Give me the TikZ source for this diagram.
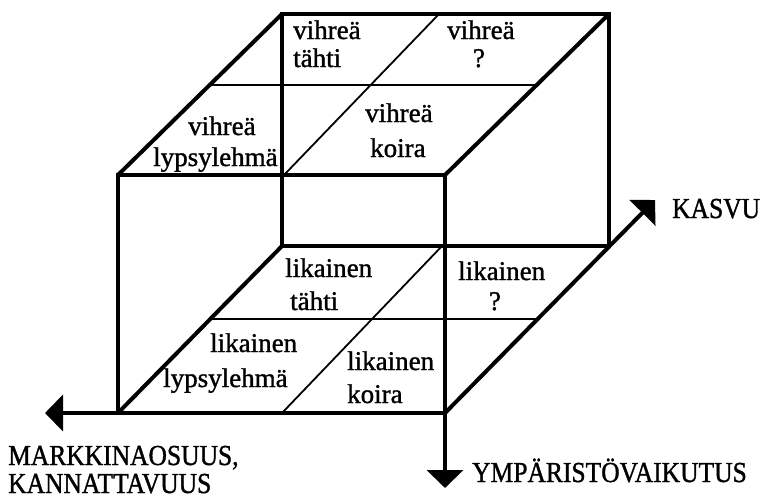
\documentclass[tikz,border=0pt]{standalone}
\usepackage{fontspec}
\setmainfont[FakeBold=1]{Liberation Serif}
\newfontfamily\cellfont[FakeBold=1.2]{Liberation Serif}
\newfontfamily\capsfont[FakeStretch=0.88,FakeBold=1.2]{Liberation Serif}
\usetikzlibrary{arrows.meta,calc}
\begin{document}
\begin{tikzpicture}[x=1pt,y=-1pt,
  edge/.style={line width=4pt},
  divider/.style={line width=1.8pt},
  axis/.style={line width=4pt,-{Triangle[length=18pt,width=36pt]}},
  cell/.style={inner sep=0pt,anchor=base west,font=\cellfont\fontsize{27}{32}\selectfont},
  cellc/.style={cell,anchor=base},
  axlabel/.style={inner sep=0pt,anchor=base west,font=\capsfont\fontsize{29}{34}\selectfont}]
\useasboundingbox (0,0) rectangle (767,498);
% cube corners
\coordinate (FTL) at (118,175);
\coordinate (FTR) at (445,175);
\coordinate (FBL) at (118,413);
\coordinate (FBR) at (445,413);
\coordinate (BTL) at (282,14);
\coordinate (BTR) at (609,14);
\coordinate (BBL) at (282,246);
\coordinate (BBR) at (609,246);
% axis ends
\coordinate (XL) at (45,413);
\coordinate (YD) at (445,488);
\coordinate (ZK) at (655,200);
% diagonals of faces
\coordinate (TD1) at (284,175);
\coordinate (TD2) at (439,14);
\coordinate (BD1) at (282,413);
\coordinate (BD2) at (442,246);
% dividers
\draw[divider] ($(FTL)!0.56!(BTL)$) -- ($(FTR)!0.56!(BTR)$);
\draw[divider] (TD1) -- (TD2);
\draw[divider] ($(FBL)!0.565!(BBL)$) -- ($(FBR)!0.565!(BBR)$);
\draw[divider] (BD1) -- (BD2);
% cube edges
\draw[edge] (BTL) rectangle (BBR);
\draw[edge] (FTL) rectangle (FBR);
\draw[edge] (FTL) -- (BTL);
\draw[edge] (FTR) -- (BTR);
\draw[edge] (FBL) -- (BBL);
% axes
\draw[axis] (FBR) -- (ZK);
\draw[axis] (FBR) -- (XL);
\draw[axis] (FBR) -- (YD);
% top face texts
\node[cell] (vt1) at (293,39) {vihreä};
\node[cell] (vt2) at (293,67) {tähti};
\node[cell] (vq1) at (447,39) {vihreä};
\node[cellc] (vq2) at (479,67) {?};
\node[cell] (vl1) at (188,135) {vihreä};
\node[cell] (vl2) at (153,166) {lypsylehmä};
\node[cell] (vk1) at (365,122) {vihreä};
\node[cell] (vk2) at (370,157) {koira};
% bottom face texts
\node[cell] (lt1) at (285,277) {likainen};
\node[cell] (lt2) at (290,310) {tähti};
\node[cell] (lq1) at (458,280) {likainen};
\node[cellc] (lq2) at (495,310) {?};
\node[cell] (ll1) at (210,352) {likainen};
\node[cell] (ll2) at (163,387) {lypsylehmä};
\node[cell] (lk1) at (347,370) {likainen};
\node[cell] (lk2) at (347,403) {koira};
% axis labels
\node[axlabel] (kasvu) at (672,218) {KASVU};
\node[axlabel] (mark) at (8,465) {MARKKINAOSUUS,};
\node[axlabel] (kann) at (8,493) {KANNATTAVUUS};
\node[axlabel] (ymp) at (472,482) {YMPÄRISTÖVAIKUTUS};
\end{tikzpicture}
\end{document}
